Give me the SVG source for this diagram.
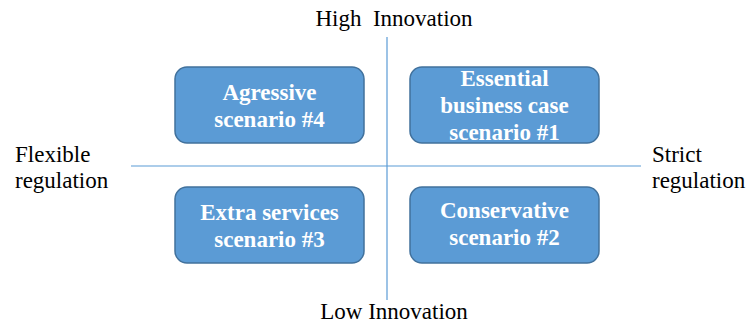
<svg xmlns="http://www.w3.org/2000/svg" width="747" height="326" viewBox="0 0 747 326">
<style>
.box{fill:#5B9BD5;stroke:#41719C;stroke-width:1.5}
.bt{font-family:'Liberation Serif','Times New Roman',serif;font-weight:bold;font-size:23px;fill:#fff;text-anchor:middle}
.lb{font-family:'Liberation Serif','Times New Roman',serif;font-size:23px;fill:#000}
.ax{stroke:#5B9BD5;stroke-width:1.2;fill:none}
</style>
<rect width="747" height="326" fill="#fff"/>
<g id="connectors">
<line class="ax" x1="387" y1="37" x2="387" y2="300"/>
<line class="ax" x1="131" y1="166" x2="641" y2="166"/>
</g>
<g id="high"><text class="lb" x="394" y="26" text-anchor="middle" xml:space="preserve">High  Innovation</text></g>
<g id="low"><text class="lb" x="394" y="319" text-anchor="middle">Low Innovation</text></g>
<g id="flexible"><text class="lb" x="15" y="162">Flexible</text><text class="lb" x="15" y="188">regulation</text></g>
<g id="strict"><text class="lb" x="652" y="162">Strict</text><text class="lb" x="652" y="188">regulation</text></g>
<g id="n4"><rect class="box" x="175" y="67" width="189" height="76" rx="12"/><text class="bt" x="269.5" y="100">Agressive</text><text class="bt" x="269.5" y="127">scenario #4</text></g>
<g id="n1"><rect class="box" x="410" y="67" width="189" height="76" rx="12"/><text class="bt" x="504.5" y="86">Essential</text><text class="bt" x="504.5" y="113">business case</text><text class="bt" x="504.5" y="140">scenario #1</text></g>
<g id="n3"><rect class="box" x="175" y="187" width="189" height="76" rx="12"/><text class="bt" x="269.5" y="220">Extra services</text><text class="bt" x="269.5" y="247">scenario #3</text></g>
<g id="n2"><rect class="box" x="410" y="187" width="189" height="76" rx="12"/><text class="bt" x="504.5" y="218">Conservative</text><text class="bt" x="504.5" y="245">scenario #2</text></g>
</svg>
